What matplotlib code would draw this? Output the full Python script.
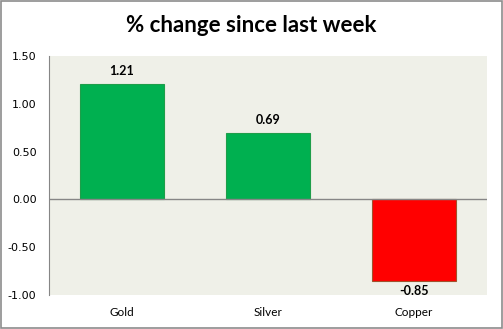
import matplotlib.pyplot as plt
from matplotlib.patches import Rectangle

metals = ['Gold', 'Silver', 'Copper']
changes = [1.21, 0.69, -0.85]
yticks = [-1.0, -0.5, 0.0, 0.5, 1.0, 1.5]

fig = plt.figure(figsize=(5.03, 3.29), dpi=100)
fig.patch.set_facecolor('white')
fig.patches.append(Rectangle((0.001, 0.002), 0.997, 0.995, transform=fig.transFigure,
                             fill=False, edgecolor='#8c8c8c', linewidth=1.2))

ax = fig.add_axes([49/503, 34/329, 438/503, 239/329])
ax.set_facecolor('#eff0e8')

colors = ['#00b050' if v >= 0 else '#ff0000' for v in changes]
edges = ['#1e9e4a' if v >= 0 else '#a0522d' for v in changes]
x = range(len(metals))
ax.bar(x, changes, width=0.57, color=colors, edgecolor=edges, linewidth=0.8, zorder=3)

for i, v in enumerate(changes):
    if v >= 0:
        ax.annotate(f'{v:.2f}', (i, v), xytext=(0, 5), textcoords='offset points',
                    ha='center', va='bottom', fontsize=9, fontweight='bold', family='Lato')
    else:
        ax.annotate(f'{v:.2f}', (i, v), xytext=(0, -3), textcoords='offset points',
                    ha='center', va='top', fontsize=9, fontweight='bold', family='Lato')

ax.axhline(0, color='#868686', linewidth=1, zorder=4)
ax.set_xlim(-0.5, 2.5)
ax.set_ylim(-1.0, 1.5)
ax.set_yticks(yticks)
ax.set_yticklabels([f'{t:.2f}' for t in yticks], fontsize=8, family='DejaVu Sans')
ax.set_xticks(list(x))
ax.set_xticklabels(metals, fontsize=8.5, family='Lato')
ax.tick_params(axis='both', length=0)
ax.tick_params(axis='y', pad=9)
ax.tick_params(axis='x', pad=9)
for s in ['top', 'right', 'bottom']:
    ax.spines[s].set_visible(False)
ax.spines['left'].set_color('#868686')

fig.text(0.5, 1 - 25/329, '% change since last week', ha='center', va='center',
         fontsize=16, fontweight='bold', family='Lato')

fig.savefig('out.png', dpi=100)
